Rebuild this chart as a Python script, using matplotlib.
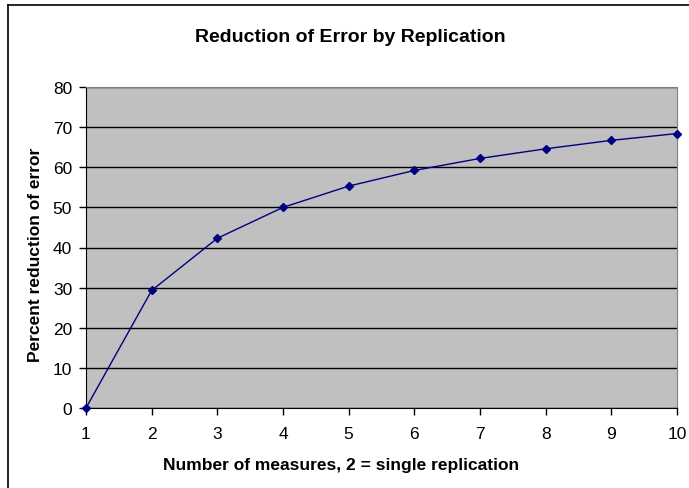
import matplotlib.pyplot as plt
from matplotlib.lines import Line2D

plt.rcParams['font.family'] = ['Liberation Sans', 'DejaVu Sans']

measures = [1, 2, 3, 4, 5, 6, 7, 8, 9, 10]
reduction = [0.0, 29.3, 42.3, 50.0, 55.3, 59.2, 62.2, 64.6, 66.7, 68.4]
y_ticks = [0, 10, 20, 30, 40, 50, 60, 70, 80]

fig = plt.figure(figsize=(6.89, 4.89), dpi=100)
ax = fig.add_axes([86 / 689, 80 / 489, 591 / 689, 321 / 489])

ax.set_facecolor('#C0C0C0')
ax.plot(measures, reduction, color='#000080', lw=1, marker='D', ms=4.5,
        mfc='#000080', mec='#000080', clip_on=False, zorder=3)

ax.set_xlim(1, 10)
ax.set_ylim(0, 80)
ax.set_xticks(measures)
ax.set_yticks(y_ticks)
ax.yaxis.grid(True, color='black', lw=1)
ax.set_axisbelow(True)

for side in ['top', 'right']:
    ax.spines[side].set_color('#808080')
for side in ['left', 'bottom']:
    ax.spines[side].set_color('black')
ax.tick_params(direction='out', length=5, width=1, labelsize=12.5)
ax.tick_params(axis='x', pad=8)
ax.tick_params(axis='y', pad=5)

# title and x label are centred on the chart area, not the plot area
fig.text(350 / 689, 1 - 38 / 489, 'Reduction of Error by Replication', fontsize=14,
         fontweight='bold', ha='center', va='center')
fig.text(341 / 689, 1 - 466 / 489, 'Number of measures, 2 = single replication',
         fontsize=12.5, fontweight='bold', ha='center', va='center')
fig.text(36 / 689, 1 - 255 / 489, 'Percent reduction of error', fontsize=12.5,
         fontweight='bold', ha='center', va='center', rotation=90)

# chart area border (runs off right and bottom edge)
fig.add_artist(Line2D([8 / 689, 8 / 689], [0, 1 - 6 / 489], color='black', lw=1.2,
                      transform=fig.transFigure))
fig.add_artist(Line2D([8 / 689, 1], [1 - 6 / 489, 1 - 6 / 489], color='black', lw=1.2,
                      transform=fig.transFigure))

fig.savefig('out.png', dpi=100)
